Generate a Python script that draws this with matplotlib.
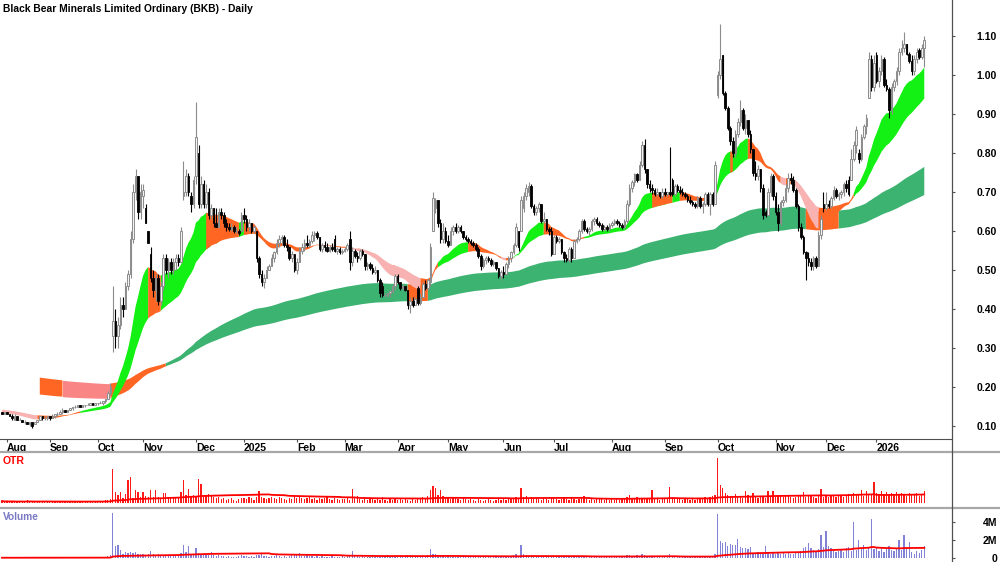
import numpy as np
import matplotlib
matplotlib.use("Agg")
import matplotlib.pyplot as plt
import pandas as pd
from matplotlib.lines import Line2D

plt.rcParams["font.family"] = ["Liberation Sans", "DejaVu Sans"]

TITLE = "Black Bear Minerals Limited Ordinary (BKB) - Daily"

# daily prices, one line per month (Jul 2024 .. Jan 2026)
opens = [
    .135, .13,
    .135, .13, .125, .115, .125, .115, .115, .11, .11, .105, .11, .105, .11, .115, .125, .12, .12,
    .125, .12, .125, .13, .13, .135, .14, .135, .14, .145, .15, .15, .155, .15, .155, .155, .155, .16, .155,
    .16, .16, .16, .165, .17, .185, .33, .37, .33, .36, .41, .40, .46, .49, .58, .70, .74, .65,
    .69, .66, .60, .54, .48, .45, .48, .42, .46, .53, .50, .52, .50, .52, .53, .52, .69, .70, .74, .69, .67,
    .74, .80, .67, .72, .67, .70, .64, .66, .62, .61, .65, .64, .62, .61, .605, .61, .60, .60, .60,
    .64, .63, .61, .62, .60, .60, .53, .49, .47, .48, .50, .51, .53, .545, .57, .58, .585, .565, .56, .53, .54,
    .50, .52, .55, .56, .57, .565, .575, .59, .595, .585, .555, .565, .56, .55, .56, .58, .55, .555, .545,
    .55, .555, .58, .52, .55, .535, .53, .55, .54, .51, .515, .505, .495, .50, .475, .46, .435, .435, .44, .445, .46,
    .485, .47, .455, .46, .45, .41, .42, .41, .455, .415, .43, .465, .455, .47, .60, .66, .68, .62, .58, .60,
    .575, .565, .60, .61, .60, .61, .60, .585, .58, .575, .57, .565, .555, .535, .51, .525, .53, .525, .515, .52, .505, .485,
    .495, .49, .515, .53, .545, .565, .60, .60, .66, .69, .70, .715, .665, .65, .66, .67, .625, .63, .605, .60,
    .54, .585, .575, .58, .545, .53, .525, .555, .53, .575, .58, .60, .625, .605, .60, .605, .625, .63, .62, .615, .605, .61, .605,
    .615, .62, .625, .62, .615, .61, .625, .67, .71, .725, .745, .73, .77, .82, .76, .72, .71, .705, .695, .70, .69,
    .70, .695, .70, .73, .695, .715, .705, .70, .695, .69, .68, .675, .67, .665, .685, .665, .67, .695, .67, .695, .67,
    .95, 1.00, 1.05, .955, .915, .865, .83, .80, .85, .88, .91, .865, .885, .85, .81, .75, .74, .76, .71, .65, .64, .70, .74,
    .69, .65, .62, .675, .68, .71, .735, .73, .705, .665, .61, .585, .545, .53, .52, .51, .53, .51, .59, .67,
    .66, .67, .665, .685, .705, .69, .695, .70, .72, .73, .73, .785, .82, .80, .785, .84, .87, .94, 1.04, .97,
    1.05, .985, 1.01, 1.04, .975, .965, .91, .97, .985, 1.01, 1.06, 1.07, 1.08, 1.055, 1.035, 1.01, 1.04, 1.065, 1.045, 1.07,
]
highs = [
    .135, .135,
    .135, .13, .13, .13, .125, .12, .115, .115, .11, .11, .11, .11, .115, .125, .125, .125, .125,
    .125, .13, .13, .135, .14, .145, .14, .14, .145, .15, .155, .155, .155, .155, .155, .16, .16, .16, .16,
    .16, .165, .165, .17, .19, .21, .46, .40, .38, .43, .43, .47, .50, .60, .72, .76, .74, .72,
    .72, .67, .60, .56, .50, .49, .49, .47, .54, .54, .53, .53, .53, .54, .54, .61, .78, .76, .75, .70, .74,
    .93, .82, .74, .73, .72, .71, .67, .66, .66, .66, .66, .65, .63, .62, .62, .615, .61, .605, .65,
    .66, .64, .63, .62, .615, .60, .535, .50, .49, .51, .515, .54, .55, .58, .59, .59, .59, .58, .56, .55, .54,
    .53, .56, .57, .58, .59, .58, .60, .60, .60, .585, .57, .575, .57, .565, .57, .59, .56, .56, .555,
    .56, .57, .60, .56, .555, .545, .555, .555, .54, .52, .52, .515, .51, .50, .48, .47, .44, .44, .45, .465, .49,
    .49, .47, .465, .46, .45, .43, .43, .43, .46, .44, .47, .475, .48, .57, .70, .685, .68, .63, .62, .61,
    .59, .61, .615, .62, .615, .615, .60, .59, .585, .58, .575, .57, .56, .54, .53, .535, .535, .53, .525, .52, .505, .50,
    .51, .52, .535, .55, .57, .62, .60, .69, .70, .72, .725, .72, .67, .665, .675, .67, .65, .63, .61, .61,
    .59, .59, .585, .58, .55, .54, .56, .56, .58, .585, .605, .63, .63, .61, .61, .63, .635, .635, .625, .62, .615, .615, .62,
    .625, .63, .63, .625, .62, .63, .68, .72, .73, .75, .75, .78, .83, .835, .76, .73, .72, .71, .71, .70, .71,
    .71, .70, .815, .735, .72, .72, .715, .71, .70, .695, .69, .68, .675, .69, .69, .675, .70, .70, .70, .70, .78,
    1.01, 1.13, 1.05, .96, .92, .87, .84, .86, .89, .935, .915, .90, .885, .86, .81, .78, .77, .76, .72, .655, .71, .75, .745,
    .70, .67, .68, .69, .72, .75, .75, .74, .71, .67, .62, .59, .55, .545, .53, .535, .535, .60, .64, .70,
    .70, .68, .69, .715, .71, .70, .705, .725, .73, .74, .81, .83, .87, .81, .85, .875, .90, 1.06, 1.05, 1.05,
    1.06, 1.02, 1.05, 1.045, .99, .97, .98, .99, 1.02, 1.07, 1.09, 1.11, 1.08, 1.06, 1.05, 1.05, 1.07, 1.07, 1.08, 1.10,
]
lows = [
    .13, .13,
    .13, .125, .115, .115, .115, .115, .11, .105, .105, .10, .095, .105, .11, .115, .115, .115, .115,
    .115, .12, .12, .125, .13, .13, .135, .135, .14, .14, .145, .15, .15, .15, .15, .155, .155, .155, .155,
    .155, .16, .155, .16, .17, .18, .29, .30, .30, .35, .38, .40, .45, .48, .57, .68, .63, .63,
    .66, .62, .57, .47, .43, .42, .41, .41, .45, .49, .48, .49, .49, .50, .51, .52, .68, .69, .69, .65, .66,
    .72, .66, .66, .66, .66, .63, .63, .61, .61, .61, .63, .61, .60, .60, .60, .595, .595, .59, .60,
    .62, .60, .60, .595, .595, .52, .48, .46, .455, .48, .50, .51, .52, .54, .56, .565, .56, .55, .525, .52, .495,
    .49, .52, .54, .55, .56, .56, .57, .575, .58, .55, .545, .55, .545, .545, .55, .545, .54, .54, .54,
    .545, .55, .50, .51, .53, .52, .525, .535, .50, .50, .50, .49, .49, .47, .43, .43, .43, .43, .43, .44, .45,
    .465, .45, .45, .445, .40, .39, .405, .41, .41, .41, .43, .45, .45, .46, .60, .645, .61, .57, .57, .57,
    .56, .565, .59, .595, .595, .595, .58, .575, .57, .565, .56, .55, .53, .50, .505, .515, .52, .51, .51, .50, .48, .475,
    .48, .49, .505, .52, .54, .56, .55, .60, .65, .68, .69, .66, .64, .64, .65, .62, .62, .60, .59, .535,
    .54, .57, .57, .54, .52, .52, .52, .52, .53, .57, .575, .595, .60, .595, .59, .60, .615, .615, .61, .60, .60, .60, .60,
    .61, .615, .615, .61, .605, .605, .62, .665, .70, .715, .725, .73, .765, .75, .71, .70, .695, .69, .69, .685, .685,
    .69, .69, .69, .69, .69, .70, .695, .69, .685, .675, .67, .665, .66, .66, .66, .645, .665, .665, .64, .665, .67,
    .94, .99, .95, .91, .86, .82, .79, .79, .84, .87, .86, .85, .84, .80, .74, .73, .73, .70, .63, .635, .64, .69, .68,
    .64, .60, .615, .665, .675, .70, .72, .70, .66, .60, .58, .54, .475, .51, .50, .50, .505, .51, .58, .65,
    .655, .66, .66, .68, .685, .68, .685, .69, .70, .69, .73, .78, .80, .775, .78, .835, .85, .94, .96, .96,
    .98, .97, 1.0, .97, .96, .89, .90, .96, .975, 1.0, 1.05, 1.06, 1.05, 1.03, 1.0, 1.0, 1.03, 1.04, 1.04, 1.02,
]
closes = [
    .13, .135,
    .13, .125, .12, .125, .115, .115, .11, .11, .105, .11, .10, .11, .115, .125, .12, .12, .125,
    .12, .125, .13, .13, .135, .14, .135, .14, .145, .15, .15, .155, .15, .155, .155, .155, .16, .155, .16,
    .16, .16, .165, .17, .185, .20, .37, .33, .36, .41, .40, .46, .49, .58, .70, .74, .65, .70,
    .705, .62, .57, .48, .45, .48, .42, .46, .53, .50, .52, .50, .52, .53, .52, .60, .70, .74, .70, .67, .73,
    .84, .67, .72, .67, .70, .64, .66, .62, .61, .65, .64, .62, .61, .605, .61, .60, .60, .595, .64,
    .63, .61, .62, .60, .61, .53, .49, .47, .48, .50, .51, .53, .545, .57, .58, .585, .565, .56, .53, .54, .50,
    .52, .55, .56, .57, .565, .575, .59, .595, .585, .555, .565, .56, .55, .56, .555, .55, .555, .545, .55,
    .555, .565, .52, .55, .535, .53, .55, .54, .51, .515, .505, .495, .50, .475, .44, .435, .435, .44, .445, .46, .485,
    .47, .455, .46, .45, .41, .42, .41, .425, .415, .43, .465, .455, .475, .56, .685, .68, .62, .58, .60, .575,
    .565, .60, .61, .60, .61, .60, .585, .58, .575, .57, .565, .555, .535, .51, .525, .53, .525, .515, .52, .505, .485, .495,
    .49, .515, .53, .545, .565, .61, .56, .68, .69, .71, .715, .665, .65, .66, .67, .625, .63, .605, .60, .54,
    .585, .575, .58, .545, .53, .525, .555, .53, .575, .58, .60, .625, .605, .60, .605, .625, .63, .62, .615, .605, .61, .605, .615,
    .62, .625, .62, .615, .61, .625, .67, .71, .725, .745, .73, .77, .82, .76, .72, .71, .705, .695, .70, .69, .70,
    .695, .70, .695, .695, .715, .705, .70, .695, .69, .68, .675, .67, .665, .685, .665, .67, .695, .67, .695, .67, .77,
    1.00, 1.04, .955, .915, .865, .83, .80, .85, .88, .91, .865, .885, .85, .81, .75, .74, .76, .71, .64, .64, .70, .74, .69,
    .65, .62, .675, .68, .71, .735, .73, .705, .665, .61, .585, .545, .53, .52, .51, .53, .51, .59, .63, .66,
    .67, .665, .685, .705, .69, .695, .70, .72, .71, .695, .785, .82, .86, .785, .84, .87, .89, 1.04, .97, 1.03,
    .985, 1.01, 1.04, .975, .965, .91, .97, .985, 1.01, 1.06, 1.07, 1.08, 1.055, 1.035, 1.01, 1.04, 1.06, 1.045, 1.07, 1.09,
]
# volume in thousands of shares
volume_k = [
    30, 20,
    40, 20, 60, 30, 10, 50, 20, 30, 80, 20, 40, 10, 30, 60, 20, 40, 30,
    50, 30, 20, 60, 40, 30, 20, 70, 40, 30, 50, 20, 40, 60, 30, 20, 40, 50, 30,
    40, 60, 50, 90, 180, 350, 5000, 1300, 1500, 900, 500, 650, 550, 700, 600, 650, 450, 500,
    400, 350, 500, 800, 450, 350, 400, 300, 350, 250, 300, 250, 200, 250, 300, 600, 1500, 700, 1300, 500, 400,
    1100, 600, 400, 350, 300, 350, 700, 300, 250, 300, 200, 250, 150, 200, 150, 100, 150, 200, 300,
    200, 250, 150, 200, 150, 300, 350, 400, 250, 200, 150, 200, 250, 300, 200, 150, 200, 150, 250, 300, 350,
    300, 600, 250, 200, 300, 250, 200, 150, 200, 150, 200, 150, 100, 150, 200, 150, 100, 150, 200,
    150, 200, 250, 800, 300, 200, 150, 200, 150, 100, 150, 200, 150, 100, 150, 200, 250, 300, 150, 100, 150,
    150, 200, 100, 150, 300, 250, 150, 100, 150, 200, 250, 200, 300, 1000, 500, 400, 300, 250, 200, 150,
    200, 150, 100, 150, 100, 150, 200, 100, 150, 100, 80, 120, 150, 100, 80, 120, 100, 150, 100, 80, 120, 100,
    150, 100, 120, 200, 300, 400, 200, 1400, 500, 300, 250, 200, 150, 200, 150, 100, 150, 120, 100, 200,
    150, 100, 120, 100, 150, 120, 100, 80, 120, 150, 200, 150, 120, 100, 150, 100, 80, 120, 100, 150, 120, 100, 80,
    100, 150, 120, 100, 80, 150, 300, 350, 250, 200, 300, 250, 400, 300, 250, 200, 150, 200, 150, 120, 100,
    150, 120, 400, 250, 200, 150, 120, 100, 150, 120, 100, 150, 120, 100, 150, 200, 150, 120, 200, 250, 400,
    4900, 1900, 1700, 1800, 1300, 1600, 1500, 1400, 2100, 1200, 1100, 1100, 1000, 1200, 600, 500, 700, 400, 500, 1300, 600, 500, 700,
    500, 600, 400, 700, 500, 600, 400, 500, 700, 600, 800, 1100, 1200, 1700, 1100, 900, 800, 1000, 2600, 1200,
    3000, 1300, 1100, 900, 700, 800, 1000, 700, 1100, 1200, 800, 4000, 900, 2000, 1000, 1400, 900, 1200, 4300, 1000,
    1100, 800, 1200, 700, 1000, 1300, 900, 800, 1100, 2000, 900, 2600, 1000, 1800, 700, 500, 800, 600, 900, 1300,
]
otr = [
    2, 1,
    2, 1, 2, 1, 1, 2, 1, 1, 3, 1, 2, 1, 1, 2, 1, 2, 1,
    2, 1, 1, 2, 1, 1, 1, 2, 1, 1, 2, 1, 1, 2, 1, 1, 2, 2, 1,
    2, 1, 2, 3, 3, 4, 34, 11, 8, 11, 5, 9, 23, 26, 5, 13, 11, 6,
    11, 7, 6, 13, 6, 13, 6, 5, 10, 10, 6, 6, 5, 5, 6, 11, 23, 8, 14, 6, 8,
    6, 24, 19, 7, 8, 9, 7, 6, 5, 6, 4, 5, 3, 4, 5, 3, 2, 4, 5,
    5, 4, 6, 5, 3, 6, 12, 6, 5, 4, 5, 6, 5, 4, 6, 5, 4, 3, 5, 4, 6,
    5, 6, 5, 4, 5, 6, 4, 5, 3, 5, 4, 5, 6, 4, 3, 5, 4, 3, 4,
    4, 5, 3, 14, 5, 7, 4, 3, 4, 3, 5, 4, 3, 4, 3, 6, 3, 2, 4, 3, 4,
    3, 4, 3, 4, 3, 2, 4, 3, 5, 4, 6, 5, 7, 13, 17, 15, 8, 13, 7, 6,
    5, 4, 6, 5, 4, 3, 5, 4, 3, 4, 3, 2, 4, 3, 2, 3, 4, 3, 2, 3, 4, 3,
    4, 3, 4, 5, 4, 6, 5, 15, 6, 7, 5, 6, 4, 5, 4, 3, 5, 4, 3, 5,
    5, 4, 3, 4, 5, 4, 3, 5, 4, 3, 4, 5, 7, 4, 3, 4, 3, 4, 5, 4, 3, 4, 3,
    4, 3, 4, 3, 5, 4, 6, 8, 5, 4, 6, 5, 4, 5, 4, 5, 13, 5, 4, 3, 4,
    5, 4, 16, 6, 4, 5, 4, 3, 5, 4, 3, 4, 3, 4, 5, 4, 6, 5, 6, 7, 8,
    45, 18, 15, 10, 8, 7, 6, 9, 6, 7, 5, 12, 8, 6, 10, 6, 5, 7, 6, 5, 12, 6, 12,
    6, 8, 7, 6, 8, 7, 6, 5, 6, 7, 8, 11, 6, 7, 8, 6, 5, 7, 14, 6,
    7, 6, 8, 7, 6, 8, 7, 6, 8, 9, 8, 10, 8, 9, 13, 7, 12, 8, 9, 21,
    10, 8, 12, 9, 11, 8, 10, 9, 11, 8, 10, 9, 7, 10, 9, 8, 10, 7, 9, 12,
]

month_labels = ["Aug", "Sep", "Oct", "Nov", "Dec", "2025", "Feb", "Mar", "Apr", "May",
                "Jun", "Jul", "Aug", "Sep", "Oct", "Nov", "Dec", "2026"]
month_starts = [2, 19, 38, 56, 77, 96, 117, 136, 157, 177, 199, 219, 242, 263, 284, 307, 327, 347]

# moving-average bands (fast -> slow) and their starting state
short_periods = [18, 21, 25, 29, 33, 38]
long_periods = [150, 165, 180, 200, 220, 240]
short_seed = [0.132, 0.134, 0.136, 0.138, 0.140, 0.142]
long_seed = [0.1822, 0.1815, 0.190, 0.200, 0.212, 0.225]
long_start = 15

C_GREEN, C_ORANGE = "#13f013", "#ff6624"
C_PINK_SHORT, C_PINK_LONG = "#f8b2b2", "#fa8585"
C_LONG_GREEN = "#3cb371"


def ema(values, period, seed):
    alpha = 2.0 / (period + 1)
    out = np.empty(len(values))
    prev = seed
    for i, v in enumerate(values):
        prev = prev + alpha * (v - prev)
        out[i] = prev
    return out


def ema_lines(values, periods, seeds):
    return np.vstack([ema(values, p, s) for p, s in zip(periods, seeds)])


def draw_band(axis, x, lo, hi, state, colors, z):
    for s, col in enumerate(colors):
        mask = state == s
        mask = mask | np.r_[mask[1:], False]
        axis.fill_between(x, lo, hi, where=mask, color=col, lw=0, zorder=z)


o = np.array(opens)
h = np.array(highs)
l = np.array(lows)
c = np.array(closes)
n = len(c)
x = np.arange(n)

# short band: green = fanned up and rising, pink = fanned down and falling
short_lines = ema_lines(c, short_periods, short_seed)
short_prev = np.hstack([np.array(short_seed)[:, None], short_lines[:, :-1]])
s_up = np.all(short_lines[:-1] > short_lines[1:], axis=0) & np.all(short_lines > short_prev, axis=0)
s_down = np.all(short_lines[:-1] < short_lines[1:], axis=0) & np.all(short_lines < short_prev, axis=0)
s_state = np.where(s_up, 0, np.where(s_down, 2, 1))
s_lo, s_hi = short_lines.min(axis=0), short_lines.max(axis=0)

# long band: trend from fastest line, green/pink only when short band is clear of it
long_lines = ema_lines(c[long_start:], long_periods, long_seed)
l_lo, l_hi = long_lines.min(axis=0), long_lines.max(axis=0)
fast = long_lines[0]
l_up = (fast > long_lines[1]) & (fast > long_lines[-1]) & (s_lo[long_start:] > l_hi)
l_down = (fast < long_lines[1]) & (fast < long_lines[-1]) & (s_hi[long_start:] < l_lo)
l_state = np.where(l_up, 0, np.where(l_down, 2, 1))

W, H = 1000, 562
fig = plt.figure(figsize=(W / 100, H / 100), dpi=100)


def rect(top, bottom):
    return [0, 1 - bottom / H, 952 / W, (bottom - top) / H]


ax = fig.add_axes(rect(0, 439))
ax_otr = fig.add_axes(rect(453, 507))
ax_vol = fig.add_axes(rect(508, 562))

for a in (ax, ax_otr, ax_vol):
    a.set_xlim(-0.79, 377.0)
    for side in ("top", "left", "right", "bottom"):
        a.spines[side].set_visible(False)

draw_band(ax, x[long_start:], l_lo, l_hi, l_state, [C_LONG_GREEN, C_ORANGE, C_PINK_LONG], 1)
draw_band(ax, x, s_lo, s_hi, s_state, [C_GREEN, C_ORANGE, C_PINK_SHORT], 2)

# candles
up = c >= o
body_lo = np.minimum(o, c)
body_h = np.abs(c - o)
ax.vlines(x[up], l[up], h[up], color="#8c8c8c", lw=0.8, zorder=3)
ax.vlines(x[~up], l[~up], h[~up], color="black", lw=0.8, zorder=3)
ax.bar(x[up], body_h[up], bottom=body_lo[up], width=0.62, facecolor="#f2f2f2",
       edgecolor="#8c8c8c", lw=0.7, zorder=4)
ax.bar(x[~up], body_h[~up], bottom=body_lo[~up], width=0.62, facecolor="black",
       edgecolor="black", lw=0.6, zorder=4)

ax.set_ylim(0.0667, 1.1923)
ax.spines["bottom"].set_visible(True)
ax.spines["bottom"].set_color("#505050")
price_ticks = [0.1, 0.2, 0.3, 0.4, 0.5, 0.6, 0.7, 0.8, 0.9, 1.0, 1.1]
ax.yaxis.tick_right()
ax.set_yticks(price_ticks)
ax.set_yticklabels([f"{t:.2f}" for t in price_ticks], fontsize=7.5, fontweight="bold")
ax.tick_params(axis="y", length=2.2, width=0.8, color="#505050", pad=30.2)
for lbl in ax.get_yticklabels():
    lbl.set_horizontalalignment("right")

ax.set_xticks(month_starts)
ax.set_xticklabels(month_labels, fontsize=7.5, fontweight="bold")
ax.tick_params(axis="x", length=2.2, width=0.8, color="#505050", pad=1.0)
for lbl in ax.get_xticklabels():
    lbl.set_horizontalalignment("left")

# OTR panel
otr_ma = pd.Series(otr).rolling(63, min_periods=1).mean()
ax_otr.bar(x, otr, width=0.5, color="#ff1a1a", lw=0)
ax_otr.plot(x, otr_ma, color="#ff0000", lw=1.3)
ax_otr.set_ylim(-4, 50)
ax_otr.set_xticks([])
ax_otr.set_yticks([])

# Volume panel
vol = np.array(volume_k) * 1000.0
vol_ma = pd.Series(vol).rolling(63, min_periods=1).mean()
ax_vol.bar(x, vol, width=0.5, color="#8282d6", lw=0)
ax_vol.plot(x, vol_ma, color="#ff0000", lw=1.3)
ax_vol.set_ylim(-0.444e6, 5.556e6)
ax_vol.set_xticks([])
ax_vol.yaxis.tick_right()
ax_vol.set_yticks([0, 2e6, 4e6])
ax_vol.set_yticklabels(["0", "2M", "4M"], fontsize=7.5, fontweight="bold")
ax_vol.tick_params(axis="y", length=2.2, width=0.8, color="#505050", pad=30.2)
for lbl in ax_vol.get_yticklabels():
    lbl.set_horizontalalignment("right")

# frame lines
fig.add_artist(Line2D([0, 1], [1 - 452 / H] * 2, color="#a8a8a8", lw=1.6))
fig.add_artist(Line2D([0, 1], [1 - 507.5 / H] * 2, color="#a8a8a8", lw=1.6))
fig.add_artist(Line2D([952 / W] * 2, [0, 1], color="#505050", lw=0.9))

fig.text(3 / W, 1 - 9 / H, TITLE, fontsize=7.4, fontweight="bold", va="center", ha="left")
fig.text(3 / W, 1 - 461 / H, "OTR", fontsize=7.5, fontweight="bold", color="#ff0000",
         va="center", ha="left")
fig.text(3 / W, 1 - 517 / H, "Volume", fontsize=7.3, fontweight="bold", color="#7a7ac4",
         va="center", ha="left")

fig.savefig("out.png", dpi=100)
